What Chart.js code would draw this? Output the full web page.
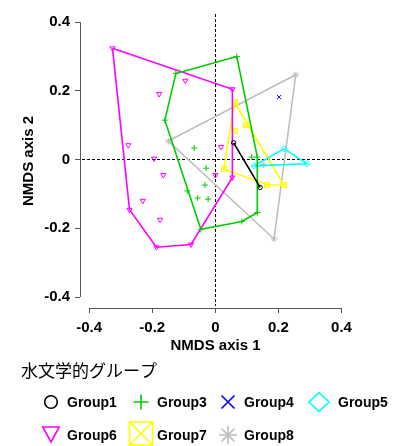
<!DOCTYPE html>
<html>
<head>
<meta charset="utf-8">
<script src="https://cdn.jsdelivr.net/npm/chart.js@4/dist/chart.umd.min.js"></script>
<style>
  html, body { margin: 0; padding: 0; background: #ffffff; }
  #wrap { width: 397px; height: 446px; }
</style>
</head>
<body>
<div id="wrap"><canvas id="nmds" width="397" height="446"></canvas></div>
<script>
// NMDS site scores, one array per hydrological group; hull arrays index the
// points that form each group's convex hull, in drawing order.
const group1Points = [[0.058, 0.049], [0.142, -0.081]];
const group1Hull = [0, 1];

const group3Points = [
  [-0.125, 0.251], [0.068, 0.300], [0.133, 0.0075], [0.133, -0.154],
  [0.084, -0.180], [-0.046, -0.203], [-0.160, 0.115], [-0.089, -0.091],
  [-0.067, 0.034], [0.115, 0.0075], [-0.029, -0.025], [-0.033, -0.074],
  [-0.056, -0.112], [-0.023, -0.115]
];
const group3Hull = [0, 1, 2, 3, 4, 5, 6];

const group4Points = [[0.202, 0.182]];
const group4Hull = [];

const group5Points = [[0.218, 0.032], [0.291, -0.012], [0.123, -0.018]];
const group5Hull = [0, 1, 2];

const group6Points = [
  [-0.326, 0.324], [0.054, 0.205], [0.054, -0.052], [-0.077, -0.247],
  [-0.187, -0.255], [-0.272, -0.146], [-0.095, 0.230], [-0.178, 0.191],
  [-0.276, 0.042], [0.018, 0.037], [-0.194, 0.003], [-0.165, -0.045],
  [-0.230, -0.120], [-0.175, -0.175], [0.000, -0.045]
];
const group6Hull = [0, 1, 2, 3, 4, 5];

const group7Points = [
  [0.061, 0.167], [0.062, 0.082], [0.097, 0.102],
  [0.027, -0.028], [0.164, -0.073], [0.217, -0.074]
];
const group7Hull = [0, 5, 4, 3];

const group8Points = [[-0.149, 0.054], [0.255, 0.247], [0.186, -0.231], [0.152, -0.015]];
const group8Hull = [0, 1, 2];

const groupNames = ['Group1', 'Group3', 'Group4', 'Group5', 'Group6', 'Group7', 'Group8'];
const legendTitle = '水文学的グループ';
const xTicks = [-0.4, -0.2, 0, 0.2, 0.4];
const xTickLabels = ['-0.4', '-0.2', '0', '0.2', '0.4'];
const yTicks = [-0.4, -0.2, 0, 0.2, 0.4];
const yTickLabels = ['-0.4', '-0.2', '0', '0.2', '0.4'];
const xTitle = 'NMDS axis 1';
const yTitle = 'NMDS axis 2';

// Symbol and colour per group (R-style plotting symbols)
const groups = [
  { name: groupNames[0], pch: 1, color: '#000000', points: group1Points, hull: group1Hull },
  { name: groupNames[1], pch: 3, color: '#00CD00', points: group3Points, hull: group3Hull },
  { name: groupNames[2], pch: 4, color: '#0000FF', points: group4Points, hull: group4Hull },
  { name: groupNames[3], pch: 5, color: '#00FFFF', points: group5Points, hull: group5Hull },
  { name: groupNames[4], pch: 6, color: '#FF00FF', points: group6Points, hull: group6Hull },
  { name: groupNames[5], pch: 7, color: '#FFFF00', points: group7Points, hull: group7Hull },
  { name: groupNames[6], pch: 8, color: '#BEBEBE', points: group8Points, hull: group8Hull }
];

// Small "square with a cross" symbol used as a point style
function boxCrossSymbol(color, size) {
  const c = document.createElement('canvas');
  c.width = size; c.height = size;
  const g = c.getContext('2d');
  g.strokeStyle = color; g.lineWidth = 1;
  g.strokeRect(0.5, 0.5, size - 1, size - 1);
  g.beginPath();
  g.moveTo(0.5, 0.5); g.lineTo(size - 0.5, size - 0.5);
  g.moveTo(size - 0.5, 0.5); g.lineTo(0.5, size - 0.5);
  g.stroke();
  return c;
}

function pointStyleFor(g) {
  switch (g.pch) {
    case 1: return { pointStyle: 'circle', pointRadius: 2.2, pointRotation: 0 };
    case 3: return { pointStyle: 'cross', pointRadius: 3, pointRotation: 0 };
    case 4: return { pointStyle: 'crossRot', pointRadius: 3, pointRotation: 0 };
    case 5: return { pointStyle: 'rectRot', pointRadius: 3.2, pointRotation: 0 };
    case 6: return { pointStyle: 'triangle', pointRadius: 3, pointRotation: 180 };
    case 7: return { pointStyle: boxCrossSymbol(g.color, 6), pointRadius: 3, pointRotation: 0 };
    case 8: return { pointStyle: 'star', pointRadius: 3.3, pointRotation: 0 };
  }
}

const toXY = p => ({ x: p[0], y: p[1] });
const datasets = [];
groups.forEach(g => {
  if (g.hull.length > 1) {
    const ring = g.hull.map(i => toXY(g.points[i]));
    ring.push(toXY(g.points[g.hull[0]]));
    datasets.push({
      label: g.name + ' hull',
      data: ring,
      showLine: true,
      borderColor: g.color,
      borderWidth: 1.6,
      pointRadius: 0,
      fill: false,
      tension: 0
    });
  }
  const st = pointStyleFor(g);
  datasets.push(Object.assign({
    label: g.name,
    data: g.points.map(toXY),
    showLine: false,
    borderColor: g.color,
    backgroundColor: 'rgba(0,0,0,0)',
    pointBorderColor: g.color,
    pointBackgroundColor: 'rgba(0,0,0,0)',
    pointBorderWidth: 1
  }, st));
});

// Legend symbols, drawn larger than the plot symbols
function drawLegendSymbol(ctx, pch, x, y, color) {
  ctx.save();
  ctx.strokeStyle = color;
  ctx.lineWidth = 1.6;
  ctx.beginPath();
  switch (pch) {
    case 1: ctx.arc(x, y, 6.3, 0, Math.PI * 2); break;
    case 3:
      ctx.moveTo(x - 7.5, y); ctx.lineTo(x + 7.5, y);
      ctx.moveTo(x, y - 7.5); ctx.lineTo(x, y + 7.5); break;
    case 4:
      ctx.moveTo(x - 6.5, y - 6.5); ctx.lineTo(x + 6.5, y + 6.5);
      ctx.moveTo(x + 6.5, y - 6.5); ctx.lineTo(x - 6.5, y + 6.5); break;
    case 5:
      ctx.moveTo(x, y - 9.3); ctx.lineTo(x + 10, y); ctx.lineTo(x, y + 9.3);
      ctx.lineTo(x - 10, y); ctx.closePath(); break;
    case 6:
      ctx.moveTo(x - 8.3, y - 8); ctx.lineTo(x + 8.3, y - 8);
      ctx.lineTo(x, y + 7); ctx.closePath(); break;
    case 7:
      ctx.rect(x - 11.5, y - 11.5, 23, 23);
      ctx.moveTo(x - 11.5, y - 11.5); ctx.lineTo(x + 11.5, y + 11.5);
      ctx.moveTo(x + 11.5, y - 11.5); ctx.lineTo(x - 11.5, y + 11.5); break;
    case 8:
      ctx.moveTo(x - 9, y); ctx.lineTo(x + 9, y);
      ctx.moveTo(x, y - 9); ctx.lineTo(x, y + 9);
      ctx.moveTo(x - 6.4, y - 6.4); ctx.lineTo(x + 6.4, y + 6.4);
      ctx.moveTo(x + 6.4, y - 6.4); ctx.lineTo(x - 6.4, y + 6.4); break;
  }
  ctx.stroke();
  ctx.restore();
}

function align(px) { return Math.round(px - 0.5) + 0.5; }

const frame = {
  id: 'frame',
  beforeDatasetsDraw(chart) {
    const { ctx, chartArea: a, scales: { x, y } } = chart;
    const x0 = align(x.getPixelForValue(0));
    const y0 = align(y.getPixelForValue(0));
    ctx.save();
    ctx.strokeStyle = '#000000';
    ctx.lineWidth = 1;
    ctx.setLineDash([3, 2]);
    ctx.beginPath();
    ctx.moveTo(x0, a.top); ctx.lineTo(x0, a.bottom - 2);
    ctx.moveTo(a.left + 2, y0); ctx.lineTo(a.right, y0);
    ctx.stroke();
    ctx.restore();
  },
  afterDraw(chart) {
    const { ctx, chartArea: a, scales: { x, y } } = chart;
    ctx.save();
    // axis lines spanning the tick range only
    ctx.strokeStyle = '#555555';
    ctx.lineWidth = 1;
    ctx.beginPath();
    const by = align(a.bottom);
    ctx.moveTo(x.getPixelForValue(xTicks[0]), by);
    ctx.lineTo(x.getPixelForValue(xTicks[xTicks.length - 1]), by);
    const lx = align(a.left);
    ctx.moveTo(lx, y.getPixelForValue(yTicks[0]));
    ctx.lineTo(lx, y.getPixelForValue(yTicks[yTicks.length - 1]));
    ctx.stroke();

    // legend
    ctx.fillStyle = '#000000';
    ctx.textBaseline = 'middle';
    ctx.textAlign = 'left';
    ctx.font = '17px "Noto Sans CJK JP"';
    ctx.fillText(legendTitle, 21, 371);
    const colSymbolX = [51, 141, 228, 319];
    const colTextX = [67, 157, 244, 338];
    const rowY = [402, 435];
    ctx.font = 'bold 14px "Liberation Sans"';
    groups.forEach((g, i) => {
      const col = i % 4, row = Math.floor(i / 4);
      const sy = rowY[row] + (g.pch === 6 ? 0 : (g.pch === 7 ? -1.5 : 0));
      drawLegendSymbol(ctx, g.pch, colSymbolX[col], sy, g.color);
      ctx.fillStyle = '#000000';
      ctx.fillText(g.name, colTextX[col], rowY[row] + 1);
    });
    ctx.restore();
  }
};

const axisFont = { family: '"Liberation Sans", Arial, sans-serif', size: 15, weight: 'bold' };

new Chart(document.getElementById('nmds'), {
  type: 'scatter',
  data: { datasets },
  options: {
    responsive: false,
    animation: false,
    devicePixelRatio: 1,
    layout: { padding: { left: 0, top: 12, right: 46, bottom: 90 } },
    plugins: { legend: { display: false }, tooltip: { enabled: false } },
    scales: {
      x: {
        type: 'linear',
        min: -0.429,
        max: 0.430,
        afterBuildTicks: s => { s.ticks = xTicks.map(v => ({ value: v })); },
        afterFit: s => { s.height = 48; },
        border: { display: false },
        grid: { drawOnChartArea: false, drawTicks: true, tickLength: 5, color: '#555555' },
        ticks: {
          autoSkip: false, maxRotation: 0, padding: 6, color: '#000000', font: axisFont,
          callback: v => xTickLabels[xTicks.indexOf(v)]
        },
        title: { display: true, text: xTitle, color: '#000000', font: axisFont, padding: { top: 0, bottom: 1 } }
      },
      y: {
        type: 'linear',
        min: -0.432,
        max: 0.424,
        afterBuildTicks: s => { s.ticks = yTicks.map(v => ({ value: v })); },
        afterFit: s => { s.width = 80; },
        border: { display: false },
        grid: { drawOnChartArea: false, drawTicks: true, tickLength: 5, color: '#555555' },
        ticks: {
          autoSkip: false, padding: 5, color: '#000000', font: axisFont,
          callback: v => yTickLabels[yTicks.indexOf(v)]
        },
        title: { display: true, text: yTitle, color: '#000000', font: axisFont, padding: { top: 20, bottom: 0 } }
      }
    }
  },
  plugins: [frame]
});
</script>
</body>
</html>
